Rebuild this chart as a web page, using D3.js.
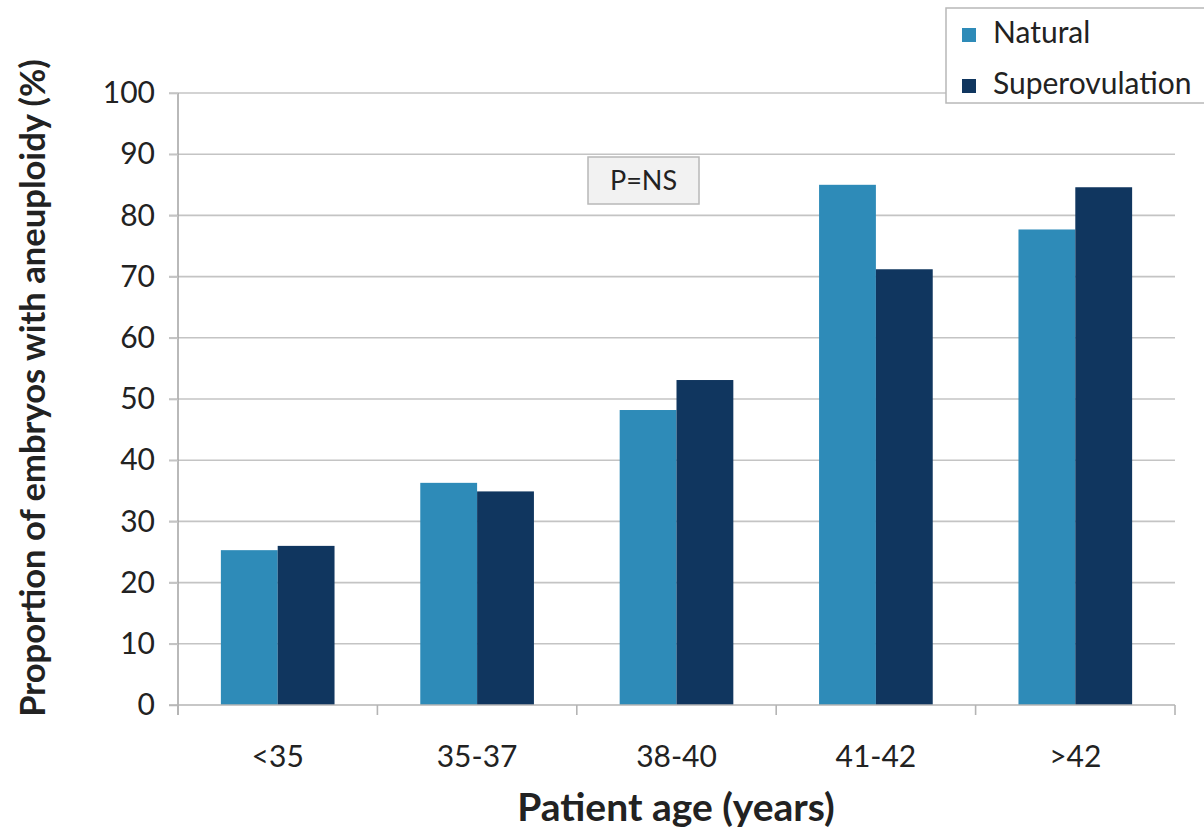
<!DOCTYPE html>
<html><head><meta charset="utf-8">
<script src="https://cdn.jsdelivr.net/npm/d3@7"></script>
<style>body{margin:0;background:#fff}svg{display:block}text{font-family:Lato,"Open Sans",sans-serif}</style>
</head><body>
<svg id="c" width="1204" height="832"></svg>
<script>
const categories = ["<35","35-37","38-40","41-42",">42"];
const seriesNames = ["Natural","Superovulation"];
const natural = [25.3, 36.3, 48.2, 85.0, 77.7];
const superovulation = [26.0, 34.9, 53.1, 71.2, 84.6];
const yTicks = [0,10,20,30,40,50,60,70,80,90,100];
const colors = ["#2e8bb8","#10365f"];

const svg = d3.select("#c");
const x0 = d3.scaleBand().domain(categories).range([178,1175]).padding(0);
const groupW = x0.bandwidth()*0.57;
const x1 = d3.scaleBand().domain(seriesNames).range([0,groupW]).padding(0);
const y = d3.scaleLinear().domain([0,100]).range([705,93]);

// gridlines
svg.append("g").selectAll("line").data(yTicks.filter(d=>d>0)).join("line")
  .attr("x1",169).attr("x2",1175).attr("y1",d=>y(d)).attr("y2",d=>y(d))
  .attr("stroke","#c4c4c4").attr("stroke-width",1.6);

// bars
const data = categories.map((c,i)=>({c, vals:[natural[i], superovulation[i]]}));
const g = svg.append("g").selectAll("g").data(data).join("g")
  .attr("transform",d=>`translate(${x0(d.c)+(x0.bandwidth()-groupW)/2},0)`);
g.selectAll("rect").data(d=>d.vals.map((v,j)=>({s:seriesNames[j],v,j}))).join("rect")
  .attr("x",d=>x1(d.s)).attr("width",x1.bandwidth())
  .attr("y",d=>y(d.v)).attr("height",d=>y(0)-y(d.v))
  .attr("fill",d=>colors[d.j]);

// y axis
const yAxis = d3.axisLeft(y).tickValues(yTicks).tickSize(9).tickPadding(14);
const ya = svg.append("g").attr("transform","translate(178,0)").call(yAxis);
ya.select(".domain").attr("stroke","#a8a8a8").attr("stroke-width",1.6).attr("d","M0,93V715");
ya.selectAll(".tick line").attr("stroke","#c4c4c4").attr("stroke-width",1.6);
ya.selectAll(".tick text").attr("font-size",30).attr("fill","#222").attr("font-family","Lato");

// x axis
const xa = svg.append("g").attr("transform","translate(0,705)");
xa.append("line").attr("x1",169).attr("x2",1175).attr("y1",0).attr("y2",0).attr("stroke","#b4b4b4").attr("stroke-width",1.6);
const bounds = categories.map(c=>x0(c)).concat([x0(categories[categories.length-1])+x0.bandwidth()]);
xa.selectAll("line.tk").data(bounds).join("line").attr("class","tk")
  .attr("x1",d=>d).attr("x2",d=>d).attr("y1",0).attr("y2",10).attr("stroke","#b4b4b4").attr("stroke-width",1.6);
xa.selectAll("text").data(categories).join("text")
  .attr("x",d=>x0(d)+x0.bandwidth()/2).attr("y",62).attr("text-anchor","middle")
  .attr("font-size",30).attr("fill","#222").text(d=>d);

// axis titles
svg.append("text").attr("x",676).attr("y",821).attr("text-anchor","middle")
  .attr("font-size",39).attr("font-weight","bold").attr("fill","#222").text("Patient age (years)");
svg.append("text").attr("transform","translate(45,388) rotate(-90)").attr("text-anchor","middle")
  .attr("font-size",34.6).attr("font-weight","bold").attr("fill","#222").text("Proportion of embryos with aneuploidy (%)");

// P=NS box
const pb = svg.append("g");
pb.append("rect").attr("x",588).attr("y",157).attr("width",111).attr("height",47)
  .attr("fill","#f2f2f2").attr("stroke","#b8b8b8").attr("stroke-width",1.5);
pb.append("text").attr("x",643.5).attr("y",190).attr("text-anchor","middle")
  .attr("font-size",27).attr("fill","#222").text("P=NS");

// legend
const lg = svg.append("g");
lg.append("rect").attr("x",946).attr("y",8).attr("width",270).attr("height",95)
  .attr("fill","#fff").attr("stroke","#b8b8b8").attr("stroke-width",1.5);
const li = lg.selectAll("g").data(seriesNames).join("g")
  .attr("transform",(d,i)=>`translate(962,${28+i*51})`);
li.append("rect").attr("width",14).attr("height",14).attr("fill",(d,i)=>colors[i]);
li.append("text").attr("x",31).attr("y",15).attr("font-size",30).attr("fill","#222").text(d=>d);
</script>
</body></html>
